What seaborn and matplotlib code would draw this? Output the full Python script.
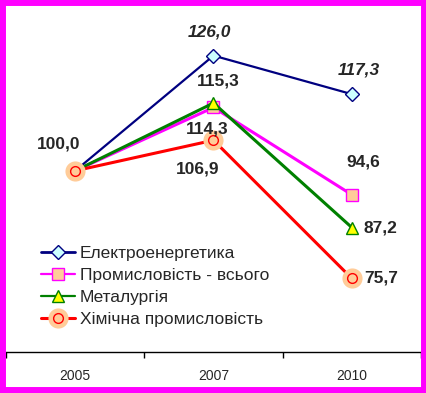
import numpy as np
import pandas as pd
import seaborn as sns
import matplotlib.pyplot as plt
from matplotlib.lines import Line2D
from matplotlib.patches import Rectangle

# data
years = ['2005', '2007', '2010']
elektro = [100.0, 126.0, 117.3]
prom = [100.0, 114.3, 94.6]
metal = [100.0, 115.3, 87.2]
chem = [100.0, 106.9, 75.7]
names = ['Електроенергетика', 'Промисловість - всього', 'Металургія', 'Хімічна промисловість']

sns.set_style('white')
plt.rcParams['font.family'] = ['Liberation Sans', 'DejaVu Sans']

W, H = 427, 393
fig = plt.figure(figsize=(W / 100, H / 100), dpi=100)
fig.patch.set_facecolor('white')
ax = fig.add_axes([6 / W, 41 / H, 415 / W, 346 / H])
ax.set_facecolor('none')

df = pd.DataFrame({'year': years * 4,
                   'value': elektro + prom + metal + chem,
                   'series': np.repeat(names, 3)})

navy, mag, green, red, peach = '#000080', '#FF00FF', '#008000', '#FF0000', '#FFCC99'

sns.lineplot(data=df[df.series == names[0]], x='year', y='value', ax=ax, color=navy, lw=1.6,
             marker='D', ms=7.5, mfc='#CCFFFF', mec=navy, mew=1, legend=False)
sns.lineplot(data=df[df.series == names[1]], x='year', y='value', ax=ax, color=mag, lw=2.2,
             marker='s', ms=8, mfc=peach, mec=mag, mew=1, legend=False)
sns.lineplot(data=df[df.series == names[2]], x='year', y='value', ax=ax, color=green, lw=2.2,
             marker='^', ms=9, mfc='#FFFF00', mec=green, mew=1, legend=False)
sns.lineplot(data=df[df.series == names[3]], x='year', y='value', ax=ax, color=red, lw=2.2,
             marker='o', ms=14.5, mfc=peach, mec='none', legend=False)
sns.lineplot(data=df[df.series == names[3]], x='year', y='value', ax=ax, color=red, lw=0,
             marker='o', ms=7, mfc='none', mec=red, mew=1, legend=False)

# data labels
def fmt(v):
    return f'{v:.1f}'.replace('.', ',')

labels = [
    (0, elektro[0], -17, 27, 'normal'),
    (1, elektro[1], -4, 24, 'italic'),
    (2, elektro[2], 7, 24, 'italic'),
    (1, metal[1], 5, 22, 'normal'),
    (1, prom[1], -6, -22, 'normal'),
    (1, chem[1], -16, -29, 'normal'),
    (2, prom[2], 11, 33, 'normal'),
    (2, metal[2], 29, 0, 'normal'),
    (2, chem[2], 29, 0, 'normal'),
]
for i, v, dx, dy, style in labels:
    ax.annotate(fmt(v), (years[i], v), xytext=(dx * 0.72, dy * 0.72), textcoords='offset points',
                ha='center', va='center', fontsize=12.5, fontweight='bold', fontstyle=style)

ax.set_xlim(-0.5, 2.5)
ax.set_ylim(59.1, 137.2)
ax.set_xticks([-0.5, 0.5, 1.5, 2.5])
ax.set_xticklabels([])
ax.set_xticks([0, 1, 2], minor=True)
ax.set_xticklabels(years, minor=True, fontsize=10)
ax.tick_params(axis='x', which='major', direction='out', length=4, width=1, color='black', bottom=True)
ax.tick_params(axis='x', which='minor', length=0, pad=12)
ax.set_yticks([])
ax.set_xlabel('')
ax.set_ylabel('')
for s in ['top', 'left', 'right']:
    ax.spines[s].set_visible(False)
ax.spines['bottom'].set_color('black')
ax.spines['bottom'].set_linewidth(1)

handles = [
    Line2D([], [], color=navy, lw=2, marker='D', ms=7.5, mfc='#CCFFFF', mec=navy),
    Line2D([], [], color=mag, lw=1.6, marker='s', ms=8, mfc=peach, mec=mag),
    Line2D([], [], color=green, lw=1.6, marker='^', ms=9, mfc='#FFFF00', mec=green),
    (Line2D([], [], color=red, lw=2.2),
     Line2D([], [], lw=0, marker='o', ms=14.5, mfc=peach, mec='none'),
     Line2D([], [], lw=0, marker='o', ms=7, mfc='none', mec=red)),
]
fig.legend(handles, names, loc='upper left', bbox_to_anchor=(41 / W, 1 - 246 / H),
           frameon=False, fontsize=12.5, handlelength=1.95, handletextpad=0.3,
           labelspacing=0.4, borderpad=0, borderaxespad=0)

# magenta frame
fig.add_artist(Rectangle((0, 0), 1, 1, transform=fig.transFigure, fill=False,
                         edgecolor=mag, linewidth=8.6, clip_on=False))

fig.savefig('out.png', dpi=100)
